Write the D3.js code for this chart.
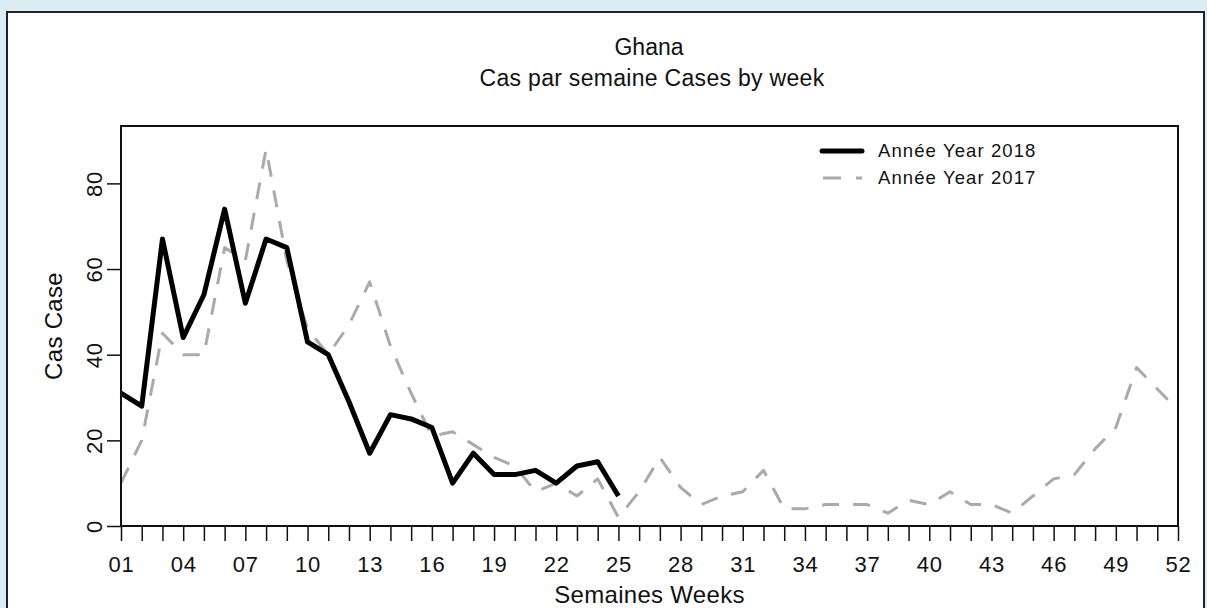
<!DOCTYPE html>
<html>
<head>
<meta charset="utf-8">
<script src="https://cdn.jsdelivr.net/npm/d3@7"></script>
<style>
  html, body { margin: 0; padding: 0; background: #dbedf3; }
  svg { display: block; }
  text { font-family: "Liberation Sans", Arial, sans-serif; fill: #111; }
</style>
</head>
<body>
<svg id="chart" width="1207" height="608"></svg>
<script>
// ---- data ----
const titleLines = ["Ghana", "Cas par semaine Cases by week"];
const xAxisTitle = "Semaines Weeks";
const yAxisTitle = "Cas Case";
const weeks = d3.range(1, 53);
const weeks2018 = d3.range(1, 26);
const cases2018 = [31, 28, 67, 44, 54, 74, 52, 67, 65, 43, 40, 29, 17, 26, 25, 23, 10, 17, 12, 12, 13, 10, 14, 15, 7];
const weeks2017 = d3.range(1, 53);
const cases2017 = [10, 20, 45, 40, 40, 65, 62, 88, 62, 46, 40, 47, 57, 42, 31, 21, 22, 19, 16, 14, 8, 10, 7, 11, 2, 8,
                   16, 9, 5, 7, 8, 13, 4, 4, 5, 5, 5, 3, 6, 5, 8, 5, 5, 3, 7, 11, 12, 18, 23, 37, 32, 27];
const xLabelWeeks = [1, 4, 7, 10, 13, 16, 19, 22, 25, 28, 31, 34, 37, 40, 43, 46, 49, 52];
const yTicks = [0, 20, 40, 60, 80];
const legendLabels = ["Année Year 2018", "Année Year 2017"];

// ---- layout ----
const svg = d3.select("#chart");
const L = 121, R = 1178, T = 126, B = 526;

// panel
svg.append("rect").attr("x", 7).attr("y", 12).attr("width", 1197).attr("height", 620)
  .attr("fill", "#ffffff").attr("stroke", "#222").attr("stroke-width", 2);

const x = d3.scaleLinear().domain([1, 52]).range([L, R]);
const y = d3.scaleLinear().domain([0, 93.4]).range([B, T]);

// titles
svg.append("text").attr("x", 649).attr("y", 47).attr("dy", "0.35em")
  .attr("text-anchor", "middle").style("font-size", "23px").text(titleLines[0]);
svg.append("text").attr("x", 652).attr("y", 78).attr("dy", "0.35em")
  .attr("text-anchor", "middle").style("font-size", "23px").style("letter-spacing", "0.3px").text(titleLines[1]);

// x axis
const xAxis = d3.axisBottom(x).tickValues(weeks).tickSize(15).tickSizeOuter(0)
  .tickFormat(d => xLabelWeeks.includes(d) ? String(d).padStart(2, "0") : "");
const gx = svg.append("g").attr("transform", `translate(0,${B})`).call(xAxis);
gx.select(".domain").remove();
gx.selectAll(".tick line").attr("stroke", "#111").attr("stroke-width", 1.5);
gx.selectAll(".tick text").attr("y", 38).attr("dy", "0.35em")
  .style("font-size", "22px").style("letter-spacing", "0.8px").style("fill", "#111");

// y axis
const yAxis = d3.axisLeft(y).tickValues(yTicks).tickSize(14).tickSizeOuter(0);
const gy = svg.append("g").attr("transform", `translate(${L},0)`).call(yAxis);
gy.select(".domain").remove();
gy.selectAll(".tick line").attr("stroke", "#111").attr("stroke-width", 1.5);
gy.selectAll(".tick text")
  .attr("x", null)
  .attr("text-anchor", "middle")
  .attr("transform", "translate(-27,0) rotate(-90)")
  .attr("dy", "0.35em")
  .style("font-size", "22px").style("letter-spacing", "0.8px").style("fill", "#111");

// axis titles
svg.append("text").attr("x", (L + R) / 2).attr("y", 595).attr("dy", "0.35em")
  .attr("text-anchor", "middle").style("font-size", "24px").style("letter-spacing", "0.3px").text(xAxisTitle);
svg.append("text").attr("transform", `translate(54,${(T + B) / 2}) rotate(-90)`)
  .attr("dy", "0.35em").attr("text-anchor", "middle").style("font-size", "24px")
  .style("letter-spacing", "0.3px").text(yAxisTitle);

// lines
const line = d3.line().x(d => x(d[0])).y(d => y(d[1]));
svg.append("path").datum(weeks2017.map((w, i) => [w, cases2017[i]]))
  .attr("d", line).attr("fill", "none").attr("stroke", "#aaaaaa")
  .attr("stroke-width", 3).attr("stroke-dasharray", "17,14").attr("stroke-linejoin", "round");
svg.append("path").datum(weeks2018.map((w, i) => [w, cases2018[i]]))
  .attr("d", line).attr("fill", "none").attr("stroke", "#000")
  .attr("stroke-width", 5).attr("stroke-linejoin", "round");

// box
svg.append("rect").attr("x", L).attr("y", T).attr("width", R - L).attr("height", B - T)
  .attr("fill", "none").attr("stroke", "#111").attr("stroke-width", 2);

// legend
const lg = svg.append("g");
lg.append("line").attr("x1", 822).attr("x2", 862).attr("y1", 151).attr("y2", 151)
  .attr("stroke", "#000").attr("stroke-width", 5).attr("stroke-linecap", "round");
lg.append("line").attr("x1", 823).attr("x2", 862).attr("y1", 178).attr("y2", 178)
  .attr("stroke", "#aaaaaa").attr("stroke-width", 3).attr("stroke-dasharray", "18,15");
legendLabels.forEach((t, i) => {
  lg.append("text").attr("x", 878).attr("y", 151 + i * 27).attr("dy", "0.35em")
    .style("font-size", "18.5px").style("letter-spacing", "1.1px").text(t);
});
</script>
</body>
</html>
